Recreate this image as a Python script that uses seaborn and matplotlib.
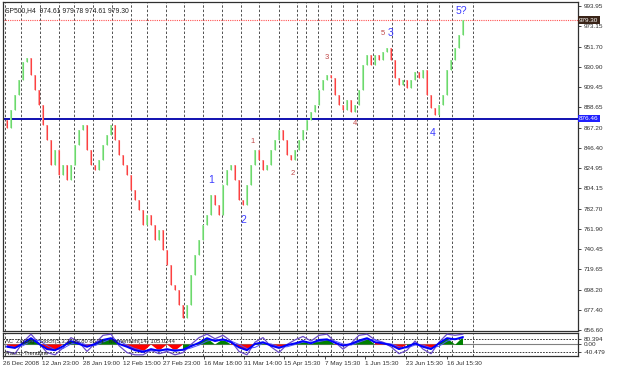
import matplotlib
matplotlib.use("Agg")
import numpy as np
import pandas as pd
import matplotlib.pyplot as plt
import matplotlib.transforms as mtransforms
import seaborn as sns

# --- price data (SP500 H4) ---
first_open = 875.0
closes = [
    866.9, 885.7, 901.3, 916.9, 935.6, 939.8, 922.1, 906.5, 890.9, 870.1,
    854.4, 828.4, 844.0, 818.0, 828.4, 812.8, 828.4, 849.2, 864.8, 870.1,
    844.0, 828.4, 823.2, 833.6, 849.2, 859.6, 870.1, 854.4, 838.8, 828.4,
    818.0, 802.4, 792.0, 781.5, 766.0, 776.3, 766.0, 750.3, 760.7, 739.9,
    724.3, 703.5, 698.3, 682.6, 669.1, 682.6, 713.9, 734.7, 750.3, 766.0,
    776.3, 797.2, 786.8, 776.3, 807.6, 823.2, 828.4, 812.8, 792.0, 786.8,
    807.6, 828.4, 844.0, 833.6, 823.2, 828.4, 844.0, 854.4, 864.8, 854.4,
    838.8, 833.6, 844.0, 854.4, 864.8, 875.3, 883.6, 890.9, 906.5, 916.9,
    922.1, 919.0, 901.3, 890.9, 885.7, 896.1, 883.6, 890.9, 906.5, 932.5,
    942.9, 932.5, 942.9, 937.7, 946.1, 950.2, 937.7, 919.0, 911.7, 916.9,
    908.6, 916.9, 925.2, 919.0, 927.3, 901.3, 887.8, 880.5, 890.9, 901.3,
    927.3, 937.7, 950.2, 963.8, 979.3,
]
last_price = 979.30
level_price = 876.46

# period separators (bar positions)
sep_bars = [-0.5, 3.5, 8.25, 13, 16.75, 21.5, 26.25, 31, 35, 39.75, 44.25, 49,
            53.75, 58.5, 63, 68, 72.5, 74.75, 77.75, 81, 84, 87.5, 91.5, 96.25,
            99.25, 102.5, 105, 108, 111.25, 116.5]

date_ticks = [-1, 8.75, 19, 29, 39, 49.25, 59.25, 69.25, 79.5, 89.5, 99.75, 110]
date_labels = ["26 Dec 2008", "12 Jan 23:00", "28 Jan 19:00", "12 Feb 15:00",
               "27 Feb 23:00", "16 Mar 18:00", "31 Mar 14:00", "15 Apr 15:30",
               "7 May 15:30", "1 Jun 15:30", "23 Jun 15:30", "16 Jul 15:30"]

price_ticks = [993.95, 973.15, 951.70, 930.90, 909.45, 888.65, 867.20, 846.40,
               824.95, 804.15, 782.70, 761.90, 740.45, 719.65, 698.20, 677.40,
               656.60]

# wave count labels
wave_text = ["1", "2", "1", "2", "3", "4", "5", "3", "4", "5?"]
wave_bar = [51, 59, 61.5, 71.5, 80, 87, 94, 96, 106.5, 113.5]
wave_price = [812.8, 771.0, 853.0, 820.0, 940.0, 872.0, 965.0, 966.0, 862.0, 989.0]
wave_color = ["blue", "blue", "red", "red", "red", "red", "red", "blue", "blue", "blue"]

# oscillator sub-window (every 2nd bar)
osc_main = [-0.2, -0.3, 0.1, 0.55, 0.05, -0.4, -0.5, -0.15, 0.3, 0.05,
            -0.2, 0.05, 0.4, 0.55, 0.05, -0.2, -0.5, -0.65, -0.4, -0.55,
            -0.4, -0.55, -0.45, -0.15, 0.15, 0.55, 0.3, 0.45, 0.2, -0.25,
            -0.5, 0.05, 0.2, -0.1, -0.3, -0.05, 0.1, 0.3, 0.1, 0.4,
            0.45, 0.15, -0.1, 0.05, 0.35, 0.55, 0.2, 0.1, -0.05, -0.4,
            -0.2, 0.1, -0.2, -0.4, 0.1, 0.55, 0.45, 0.65]
osc_signal = [-0.1, -0.25, -0.1, 0.3, 0.35, -0.1, -0.45, -0.35, 0.05, 0.2,
              -0.05, -0.1, 0.2, 0.5, 0.3, -0.05, -0.35, -0.55, -0.55, -0.45,
              -0.5, -0.45, -0.5, -0.3, -0.05, 0.3, 0.45, 0.35, 0.3, 0.0,
              -0.35, -0.25, 0.1, 0.05, -0.2, -0.2, 0.0, 0.2, 0.2, 0.25,
              0.4, 0.3, 0.05, -0.05, 0.2, 0.45, 0.4, 0.15, 0.05, -0.2,
              -0.3, -0.05, -0.05, -0.3, -0.15, 0.3, 0.5, 0.55]
osc_stoch = [-0.6, -0.8, 0.2, 0.9, 0.1, -0.7, -0.9, -0.3, 0.6, 0.2,
             -0.6, 0.1, 0.8, 0.9, -0.1, -0.7, -0.9, -0.9, -0.5, -0.8,
             -0.6, -0.9, -0.7, 0.0, 0.6, 0.9, 0.5, 0.8, 0.3, -0.6,
             -0.9, 0.2, 0.6, -0.2, -0.7, 0.0, 0.4, 0.7, 0.3, 0.8,
             0.9, 0.2, -0.4, 0.1, 0.8, 0.9, 0.4, 0.2, -0.2, -0.8,
             -0.5, 0.3, -0.4, -0.8, 0.2, 0.9, 0.8, 0.9]

sns.set_theme(style="white")
plt.rcParams['font.family'] = ['Liberation Sans', 'DejaVu Sans']
FS = 4.6

bars = pd.DataFrame({"close": closes})
bars["open"] = [first_open] + closes[:-1]
bars["bar"] = np.arange(len(bars))
up = bars["close"] >= bars["open"]

fig = plt.figure(figsize=(6.25, 3.66), dpi=100)
fig.patch.set_facecolor("white")
ax = fig.add_axes([3 / 625, 35 / 366, 575 / 625, 329 / 366])
sub = fig.add_axes([3 / 625, 10 / 366, 575 / 625, 23 / 366])

for a in (ax, sub):
    for b in sep_bars:
        a.axvline(b, color="#505050", lw=0.7, ls=(0, (2.5, 2)), zorder=1)
    a.set_xlim(-1, 142.75)
    a.set_facecolor("white")
    for s in a.spines.values():
        s.set_color("#303030")
        s.set_linewidth(0.9)

# candles
for is_up, body, line in ((True, "#a8eca8", "#6cd86c"), (False, "#f6aaaa", "#ff4040")):
    d = bars[up == is_up]
    ax.bar(d["bar"], d["close"] - d["open"], bottom=d["open"], width=0.65,
           color=body, edgecolor="none", zorder=3)
    ax.vlines(d["bar"], d["open"], d["close"], color=line, lw=0.8, zorder=4)

ax.axhline(last_price, color="#ff5050", lw=0.8, ls=(0, (1, 1)), zorder=2)
ax.axhline(level_price, color="#1010b0", lw=1.4, zorder=2)

ax.set_ylim(655.6, 998.1)
ax.yaxis.tick_right()
ax.set_yticks(price_ticks)
ax.set_yticklabels([f"{p:.2f}" for p in price_ticks], fontsize=FS, color="#303030")
ax.tick_params(axis="y", length=2, width=0.6, pad=2, right=True)
ax.set_xticks([])

trans = mtransforms.blended_transform_factory(ax.transAxes, ax.transData)
ax.text(1.002, last_price, f"{last_price:.2f}", transform=trans, fontsize=FS,
        color="white", va="center", ha="left", zorder=6,
        bbox=dict(facecolor="#3a2418", edgecolor="none", pad=0.8))
ax.text(1.002, level_price, f"{level_price:.2f}", transform=trans, fontsize=FS,
        color="white", va="center", ha="left", zorder=6,
        bbox=dict(facecolor="#2020ff", edgecolor="none", pad=0.8))

ax.text(0.004, 0.985, "SP500,H4  974.61 979.78 974.61 979.30", transform=ax.transAxes,
        fontsize=FS + 0.3, color="#202020", va="top", ha="left")

for t, b, p, c in zip(wave_text, wave_bar, wave_price, wave_color):
    if c == "blue":
        ax.text(b, p, t, color="#3c3cff", fontsize=7.5, ha="center", va="center", zorder=5)
    else:
        ax.text(b, p, t, color="#c04848", fontsize=5.5, ha="center", va="center", zorder=5)

# oscillator window
osc = pd.DataFrame({"bar": np.arange(0, 2 * len(osc_main), 2),
                    "main": osc_main, "signal": osc_signal, "stoch": osc_stoch})
sub.set_ylim(-1, 1)
sub.axhline(0.48, color="#202020", lw=0.6, ls=(0, (2, 1.5)), zorder=1)
sub.axhline(-0.65, color="#202020", lw=0.6, ls=(0, (2, 1.5)), zorder=1)
sub.axhline(0.04, color="#808080", lw=0.8, zorder=1)
sub.fill_between(osc["bar"], 0, osc["main"], where=osc["main"] >= osc["signal"],
                 color="#008000", interpolate=True, zorder=2, lw=0)
sub.fill_between(osc["bar"], 0, osc["main"], where=osc["main"] < osc["signal"],
                 color="#ff0000", interpolate=True, zorder=2, lw=0)
sns.lineplot(data=osc, x="bar", y="stoch", ax=sub, color="#6a4cc8", lw=0.9, zorder=3)
sns.lineplot(data=osc, x="bar", y="signal", ax=sub, color="#5050ff", lw=0.7, zorder=3)
sns.lineplot(data=osc, x="bar", y="main", ax=sub, color="#0000ff", lw=1.4, zorder=4)
sub.set_xlabel("")
sub.set_ylabel("")
sub.text(0.003, 0.62, "ΛC  ZigZag   Stoch(5,3,3) 90.80 85.71   Momentum(14) 105.0244",
         transform=sub.transAxes, fontsize=FS - 0.4, color="#202020", va="center", zorder=5)
sub.text(0.003, 0.1, "Fracco-Trendline", transform=sub.transAxes,
         fontsize=FS - 0.4, color="#202020", va="center", zorder=5)

sub.yaxis.tick_right()
sub.set_yticks([0.48, 0.04, -0.65])
sub.set_yticklabels(["80.394", "0.00", "-40.479"], fontsize=FS, color="#303030")
sub.tick_params(axis="y", length=2, width=0.6, pad=2, right=True)
sub.set_xticks(date_ticks)
sub.set_xticklabels(date_labels, fontsize=FS, color="#303030", ha="left")
sub.tick_params(axis="x", length=2, width=0.6, pad=1.5, bottom=True)

fig.savefig("out.png", dpi=100, facecolor="white")
